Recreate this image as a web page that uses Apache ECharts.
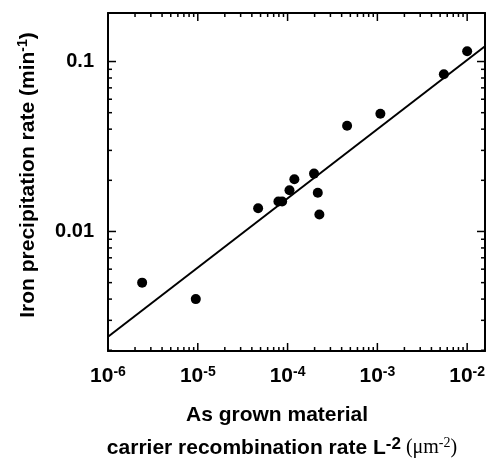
<!DOCTYPE html>
<html>
<head>
<meta charset="utf-8">
<script src="https://cdn.jsdelivr.net/npm/echarts@6/dist/echarts.min.js"></script>
<style>
  html, body { margin: 0; padding: 0; background: #fff; }
  #chart { width: 489px; height: 459px; }
</style>
</head>
<body>
<div id="chart"></div>
<script>
// Carrier recombination rate L^-2 (um^-2) of as-grown material
const recombRate = [2.4e-6, 9.5e-6, 4.7e-5, 7.9e-5, 8.7e-5, 1.05e-4, 1.19e-4, 1.97e-4, 2.17e-4, 2.26e-4, 4.6e-4, 1.08e-3, 5.5e-3, 1.0e-2];
// Iron precipitation rate (min^-1)
const precipRate = [0.0050, 0.0040, 0.0137, 0.0150, 0.0150, 0.0175, 0.0203, 0.0219, 0.0169, 0.0126, 0.0419, 0.0493, 0.0841, 0.115];
// Power-law fit line end points
const fitX = [1e-6, 0.0158];
const fitY = [0.0024, 0.123];
// Axis extents
const xRange = [1e-6, 0.0158];
const yRange = [0.00198, 0.193];
// Labelled decades
const xLabelExponents = [-6, -5, -4, -3, -2];
const yLabelValues = [0.01, 0.1];
const yLabelTexts = ['0.01', '0.1'];

const FONT = '"Liberation Sans", Arial, Helvetica, sans-serif';
const SERIF = '"Liberation Serif", "Times New Roman", serif';
const INK = '#000';

// Log-decade tick marks (1..9 x 10^k) inside an extent; major = power of ten
function logTicks(range) {
  const out = [];
  const k0 = Math.floor(Math.log10(range[0])) - 1;
  const k1 = Math.ceil(Math.log10(range[1])) + 1;
  for (let k = k0; k <= k1; k++) {
    for (let m = 1; m <= 9; m++) {
      const v = m * Math.pow(10, k);
      if (v >= range[0] * 0.9999 && v <= range[1] * 1.0001) out.push([v, m === 1 ? 1 : 0]);
    }
  }
  return out;
}
const xTicks = logTicks(xRange);
const yTicks = logTicks(yRange);

function isDecade(v) {
  const l = Math.log10(v);
  return Math.abs(l - Math.round(l)) < 1e-6;
}

const chart = echarts.init(document.getElementById('chart'), null, { renderer: 'canvas' });

const axisLine = { show: true, lineStyle: { color: INK, width: 2 } };

chart.setOption({
  animation: false,
  backgroundColor: '#fff',
  grid: { left: 108, right: 4, top: 13, bottom: 108 },
  xAxis: [{
    type: 'log', min: xRange[0], max: xRange[1], position: 'bottom',
    axisLine: axisLine, axisTick: { show: false }, splitLine: { show: false },
    axisLabel: {
      margin: 14,
      showMinLabel: true, showMaxLabel: true,
      formatter: function (v) {
        if (!isDecade(v)) return '';
        const e = Math.round(Math.log10(v));
        if (xLabelExponents.indexOf(e) < 0) return '';
        return '{b|10}{s|' + e + '}';
      },
      rich: {
        b: { fontFamily: FONT, fontWeight: 'bold', fontSize: 21, color: INK, lineHeight: 23 },
        s: { fontFamily: FONT, fontWeight: 'bold', fontSize: 14, color: INK, verticalAlign: 'top', lineHeight: 14 }
      }
    }
  }, {
    type: 'log', min: xRange[0], max: xRange[1], position: 'top',
    axisLine: axisLine, axisTick: { show: false }, splitLine: { show: false }, axisLabel: { show: false }
  }],
  yAxis: [{
    type: 'log', min: yRange[0], max: yRange[1], position: 'left',
    axisLine: axisLine, axisTick: { show: false }, splitLine: { show: false },
    axisLabel: {
      margin: 14,
      fontFamily: FONT, fontWeight: 'bold', fontSize: 20, color: INK,
      formatter: function (v) {
        for (let i = 0; i < yLabelValues.length; i++) {
          if (Math.abs(Math.log10(v) - Math.log10(yLabelValues[i])) < 1e-6) return yLabelTexts[i];
        }
        return '';
      }
    }
  }, {
    type: 'log', min: yRange[0], max: yRange[1], position: 'right',
    axisLine: axisLine, axisTick: { show: false }, splitLine: { show: false }, axisLabel: { show: false }
  }],
  graphic: [{
    type: 'text',
    x: 28, y: 175, rotation: Math.PI / 2,
    style: {
      text: '{t|Iron precipitation rate (min}{s|-1}{t|)}',
      align: 'center', verticalAlign: 'middle',
      rich: {
        t: { fontFamily: FONT, fontWeight: 'bold', fontSize: 21, fill: INK, lineHeight: 24 },
        s: { fontFamily: FONT, fontWeight: 'bold', fontSize: 14, fill: INK, verticalAlign: 'top', lineHeight: 14 }
      }
    }
  }, {
    type: 'text',
    x: 277, y: 415,
    style: {
      text: 'As grown material',
      align: 'center', verticalAlign: 'middle',
      fontFamily: FONT, fontWeight: 'bold', fontSize: 21, fill: INK
    }
  }, {
    type: 'text',
    x: 282, y: 448,
    style: {
      text: '{t|carrier recombination rate L}{s|-2}{r| (\u03bcm}{rs|-2}{r|)}',
      align: 'center', verticalAlign: 'middle',
      rich: {
        t: { fontFamily: FONT, fontWeight: 'bold', fontSize: 21, fill: INK, lineHeight: 24 },
        s: { fontFamily: FONT, fontWeight: 'bold', fontSize: 17, fill: INK, verticalAlign: 'top', lineHeight: 15 },
        r: { fontFamily: SERIF, fontSize: 20, fill: INK, lineHeight: 24 },
        rs: { fontFamily: SERIF, fontSize: 14, fill: INK, verticalAlign: 'top', lineHeight: 14 }
      }
    }
  }],
  series: [{
    type: 'line',
    data: fitX.map((x, i) => [x, fitY[i]]),
    symbol: 'none',
    lineStyle: { color: INK, width: 2 },
    z: 3
  }, {
    type: 'scatter',
    data: recombRate.map((x, i) => [x, precipRate[i]]),
    symbol: 'circle', symbolSize: 10,
    itemStyle: { color: INK, opacity: 1 },
    z: 4
  }, {
    // tick marks along bottom and top edges, pointing inward
    type: 'custom',
    clip: false,
    data: xTicks,
    renderItem: function (params, api) {
      const x = api.coord([api.value(0), yRange[0]])[0];
      const yb = api.coord([xRange[0], yRange[0]])[1];
      const yt = api.coord([xRange[0], yRange[1]])[1];
      const len = api.value(1) ? 8 : 4;
      const st = { stroke: INK, lineWidth: 1.5 };
      return {
        type: 'group',
        children: [
          { type: 'line', shape: { x1: x, y1: yb, x2: x, y2: yb - len }, style: st },
          { type: 'line', shape: { x1: x, y1: yt, x2: x, y2: yt + len }, style: st }
        ]
      };
    },
    z: 5
  }, {
    // tick marks along left and right edges, pointing inward
    type: 'custom',
    clip: false,
    data: yTicks.map(t => [xRange[0], t[0], t[1]]),
    renderItem: function (params, api) {
      const y = api.coord([xRange[0], api.value(1)])[1];
      const xl = api.coord([xRange[0], yRange[0]])[0];
      const xr = api.coord([xRange[1], yRange[0]])[0];
      const len = api.value(2) ? 8 : 4;
      const st = { stroke: INK, lineWidth: 1.5 };
      return {
        type: 'group',
        children: [
          { type: 'line', shape: { x1: xl, y1: y, x2: xl + len, y2: y }, style: st },
          { type: 'line', shape: { x1: xr, y1: y, x2: xr - len, y2: y }, style: st }
        ]
      };
    },
    z: 5
  }]
});
</script>
</body>
</html>
